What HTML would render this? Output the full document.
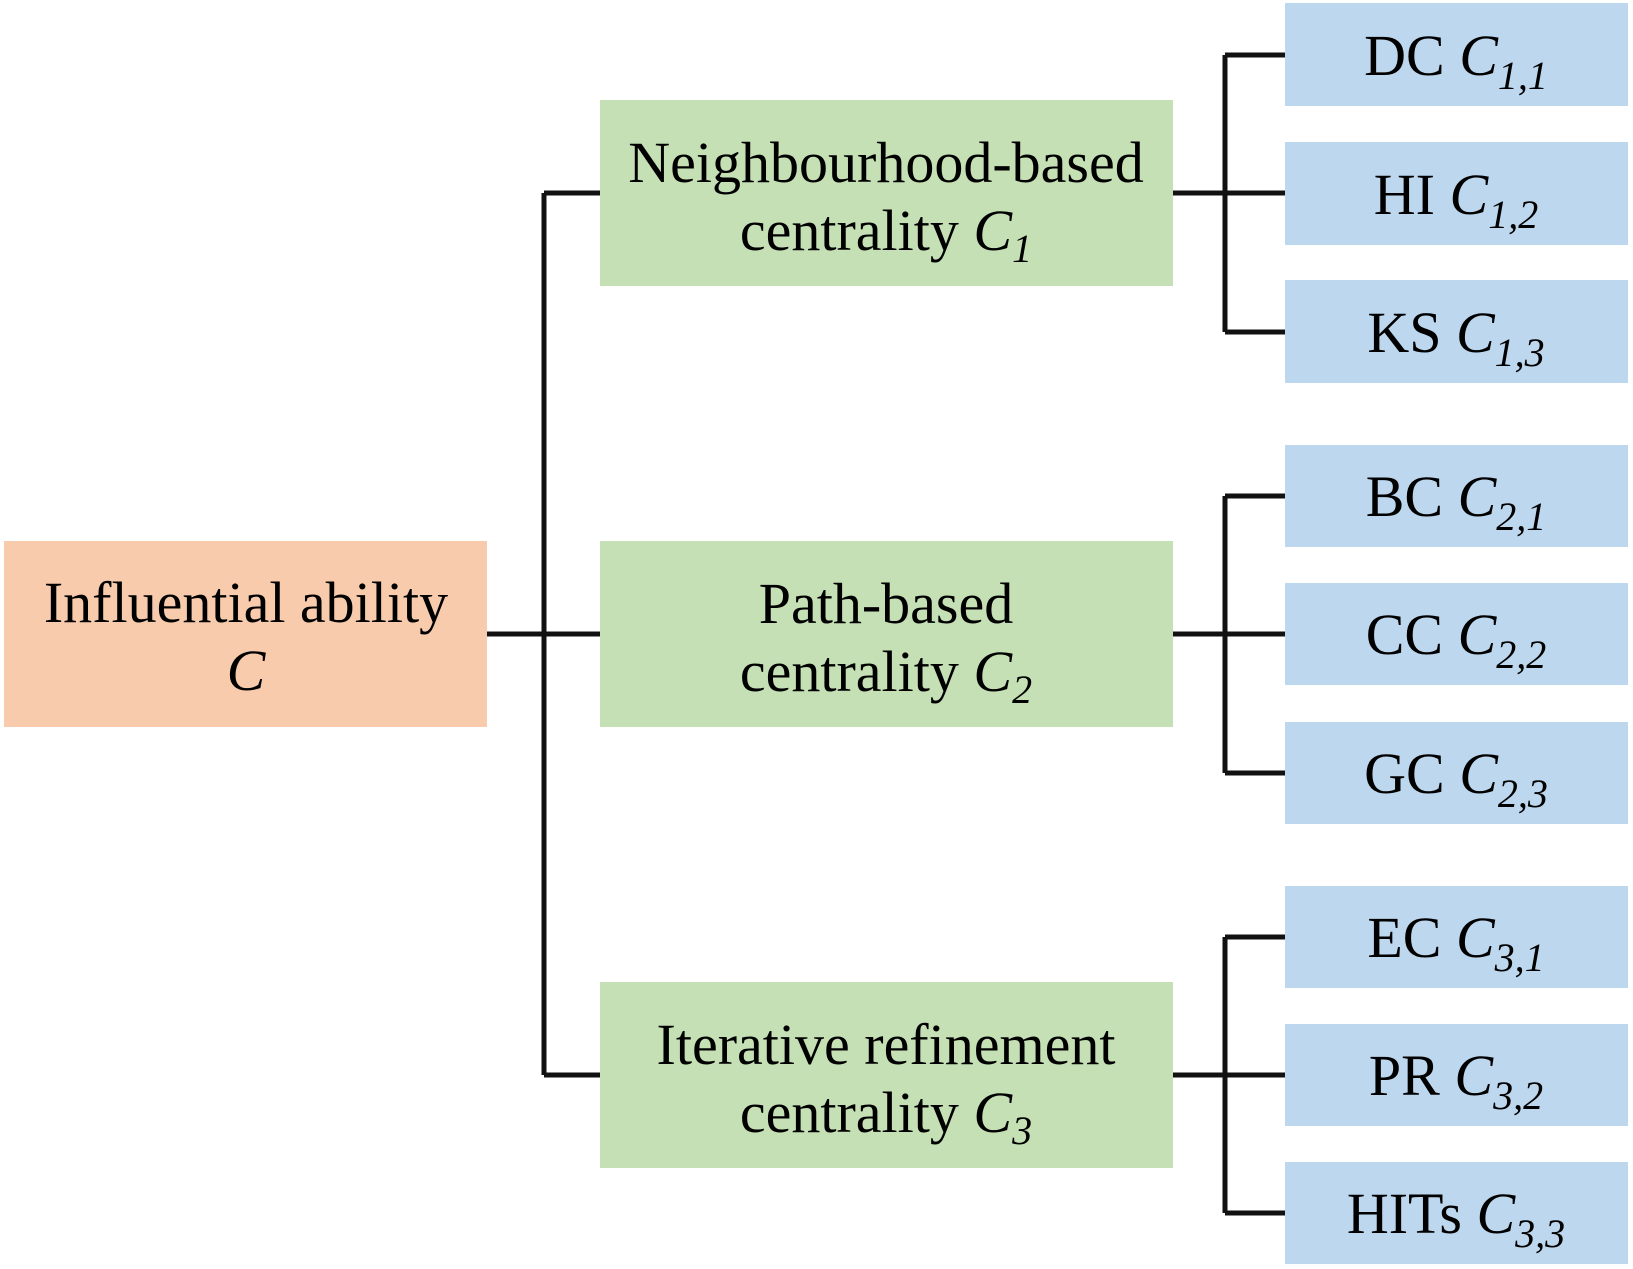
<!DOCTYPE html>
<html><head><meta charset="utf-8"><style>
html,body{margin:0;padding:0;background:#fff;}
svg{display:block;}
text{font-family:"Liberation Serif",serif;fill:#000;}
.s{font-style:italic;}
</style></head><body>
<svg width="1633" height="1269" viewBox="0 0 1633 1269" xmlns="http://www.w3.org/2000/svg">
<rect x="4" y="541" width="483" height="186" fill="#f8cbad"/>
<rect x="600" y="100" width="573" height="186" fill="#c5e0b4"/>
<rect x="600" y="541" width="573" height="186" fill="#c5e0b4"/>
<rect x="600" y="982" width="573" height="186" fill="#c5e0b4"/>
<g fill="#bdd7ee">
<rect x="1285" y="3" width="343" height="103"/>
<rect x="1285" y="142" width="343" height="103"/>
<rect x="1285" y="280" width="343" height="103"/>
<rect x="1285" y="445" width="343" height="102"/>
<rect x="1285" y="583" width="343" height="102"/>
<rect x="1285" y="722" width="343" height="102"/>
<rect x="1285" y="886" width="343" height="102"/>
<rect x="1285" y="1024" width="343" height="102"/>
<rect x="1285" y="1162" width="343" height="102"/>
</g>
<g stroke="#111" stroke-width="5" fill="none">
<path d="M487 634H600M544 193V1075M544 193H600M544 1075H600"/>
<path d="M1173 193H1285M1225 55V332M1225 55H1285M1225 332H1285"/>
<path d="M1173 634H1285M1225 496V773M1225 496H1285M1225 773H1285"/>
<path d="M1173 1075H1285M1225 937V1213M1225 937H1285M1225 1213H1285"/>
</g>
<g font-size="58" text-anchor="middle">
<text x="246" y="622">Influential ability</text>
<text x="246" y="690" class="s">C</text>
<text x="886" y="182">Neighbourhood-based</text>
<text x="886" y="250">centrality <tspan class="s">C</tspan><tspan class="s" font-size="40" dy="12">1</tspan></text>
<text x="886" y="623">Path-based</text>
<text x="886" y="691">centrality <tspan class="s">C</tspan><tspan class="s" font-size="40" dy="12">2</tspan></text>
<text x="886" y="1064">Iterative refinement</text>
<text x="886" y="1132">centrality <tspan class="s">C</tspan><tspan class="s" font-size="40" dy="12">3</tspan></text>
<text x="1456" y="75">DC <tspan class="s">C</tspan><tspan class="s" font-size="40" dy="14">1,1</tspan></text>
<text x="1456" y="214">HI <tspan class="s">C</tspan><tspan class="s" font-size="40" dy="14">1,2</tspan></text>
<text x="1456" y="352">KS <tspan class="s">C</tspan><tspan class="s" font-size="40" dy="14">1,3</tspan></text>
<text x="1456" y="516">BC <tspan class="s">C</tspan><tspan class="s" font-size="40" dy="14">2,1</tspan></text>
<text x="1456" y="654">CC <tspan class="s">C</tspan><tspan class="s" font-size="40" dy="14">2,2</tspan></text>
<text x="1456" y="793">GC <tspan class="s">C</tspan><tspan class="s" font-size="40" dy="14">2,3</tspan></text>
<text x="1456" y="957">EC <tspan class="s">C</tspan><tspan class="s" font-size="40" dy="14">3,1</tspan></text>
<text x="1456" y="1095">PR <tspan class="s">C</tspan><tspan class="s" font-size="40" dy="14">3,2</tspan></text>
<text x="1456" y="1233">HITs <tspan class="s">C</tspan><tspan class="s" font-size="40" dy="14">3,3</tspan></text>
</g>
</svg>
</body></html>
